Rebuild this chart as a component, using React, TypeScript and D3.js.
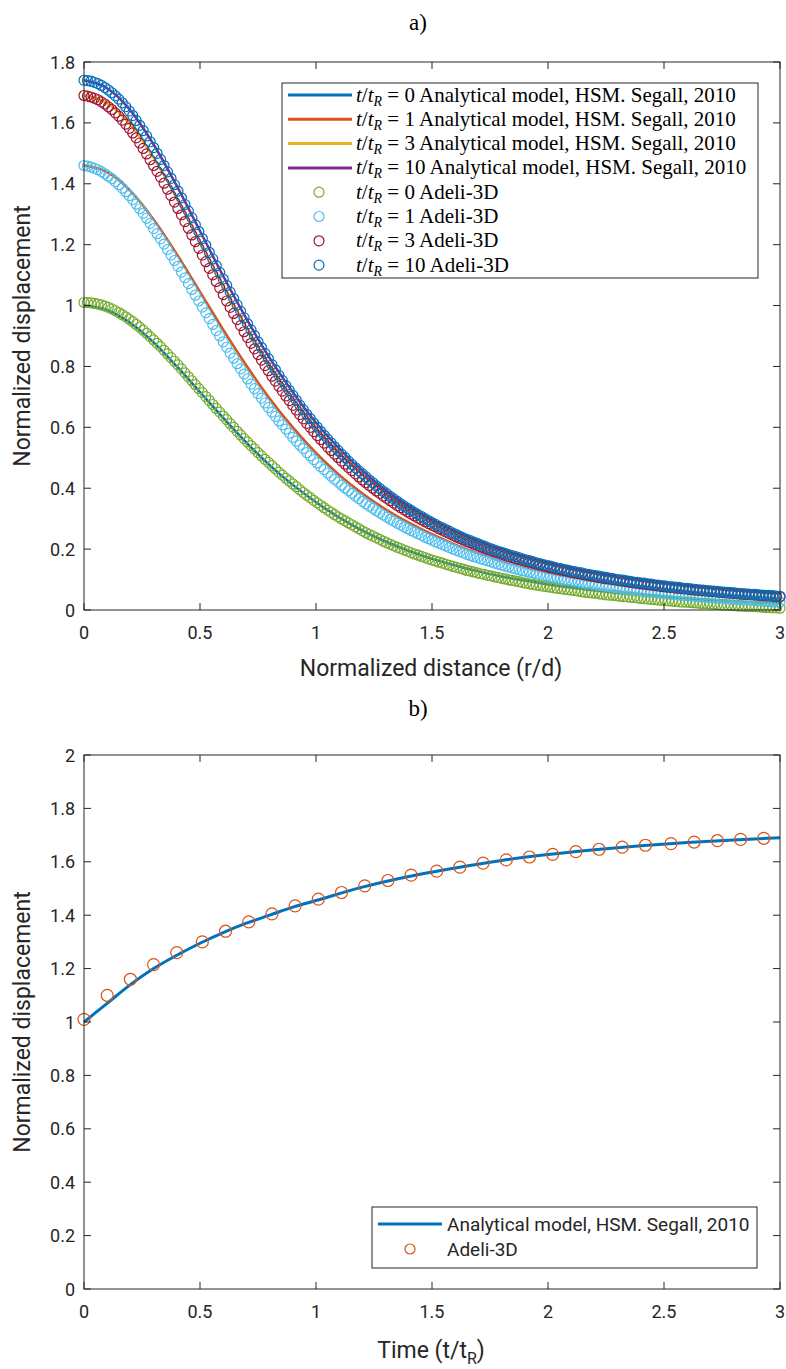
import React from "react";
import * as d3 from "d3";

// ---------- Panel a data ----------
const distKnots = [0, 0.1, 0.2, 0.3, 0.4, 0.5, 0.6, 0.7, 0.8, 0.9, 1.0, 1.1, 1.2, 1.3, 1.4, 1.5, 1.6, 1.7, 1.8, 1.9, 2.0, 2.1, 2.2, 2.3, 2.4, 2.5, 2.6, 2.7, 2.8, 2.9, 3.0];
const analyticT0 = [1.0, 0.985, 0.943, 0.879, 0.8, 0.716, 0.631, 0.55, 0.476, 0.411, 0.354, 0.304, 0.261, 0.225, 0.194, 0.168, 0.146, 0.127, 0.11, 0.097, 0.084, 0.074, 0.065, 0.057, 0.05, 0.044, 0.038, 0.033, 0.029, 0.025, 0.022];
const analyticT1 = [1.46, 1.438, 1.377, 1.283, 1.169, 1.045, 0.921, 0.803, 0.695, 0.6, 0.516, 0.444, 0.383, 0.331, 0.287, 0.249, 0.215, 0.186, 0.162, 0.141, 0.123, 0.108, 0.095, 0.083, 0.073, 0.065, 0.058, 0.051, 0.045, 0.04, 0.036];
const analyticT3 = [1.69, 1.665, 1.594, 1.485, 1.353, 1.209, 1.066, 0.929, 0.805, 0.694, 0.598, 0.514, 0.443, 0.383, 0.332, 0.288, 0.252, 0.22, 0.193, 0.171, 0.151, 0.134, 0.12, 0.107, 0.096, 0.087, 0.078, 0.071, 0.064, 0.058, 0.053];
const analyticT10 = [1.74, 1.714, 1.641, 1.529, 1.393, 1.245, 1.097, 0.957, 0.828, 0.715, 0.615, 0.53, 0.457, 0.394, 0.342, 0.297, 0.259, 0.227, 0.199, 0.176, 0.156, 0.138, 0.123, 0.11, 0.099, 0.089, 0.081, 0.073, 0.066, 0.06, 0.055];

const distSamples = [
  0, 0.015, 0.03, 0.045, 0.06, 0.075, 0.09, 0.105, 0.12, 0.135, 0.15, 0.165, 0.18, 0.195, 0.21, 0.225, 0.24, 0.255, 0.27, 0.285,
  0.3, 0.315, 0.33, 0.345, 0.36, 0.375, 0.39, 0.405, 0.42, 0.435, 0.45, 0.465, 0.48, 0.495, 0.51, 0.525, 0.54, 0.555, 0.57, 0.585,
  0.6, 0.615, 0.63, 0.645, 0.66, 0.675, 0.69, 0.705, 0.72, 0.735, 0.75, 0.765, 0.78, 0.795, 0.81, 0.825, 0.84, 0.855, 0.87, 0.885,
  0.9, 0.915, 0.93, 0.945, 0.96, 0.975, 0.99, 1.005, 1.02, 1.035, 1.05, 1.065, 1.08, 1.095, 1.11, 1.125, 1.14, 1.155, 1.17, 1.185,
  1.2, 1.215, 1.23, 1.245, 1.26, 1.275, 1.29, 1.305, 1.32, 1.335, 1.35, 1.365, 1.38, 1.395, 1.41, 1.425, 1.44, 1.455, 1.47, 1.485,
  1.5, 1.515, 1.53, 1.545, 1.56, 1.575, 1.59, 1.605, 1.62, 1.635, 1.65, 1.665, 1.68, 1.695, 1.71, 1.725, 1.74, 1.755, 1.77, 1.785,
  1.8, 1.815, 1.83, 1.845, 1.86, 1.875, 1.89, 1.905, 1.92, 1.935, 1.95, 1.965, 1.98, 1.995, 2.01, 2.025, 2.04, 2.055, 2.07, 2.085,
  2.1, 2.115, 2.13, 2.145, 2.16, 2.175, 2.19, 2.205, 2.22, 2.235, 2.25, 2.265, 2.28, 2.295, 2.31, 2.325, 2.34, 2.355, 2.37, 2.385,
  2.4, 2.415, 2.43, 2.445, 2.46, 2.475, 2.49, 2.505, 2.52, 2.535, 2.55, 2.565, 2.58, 2.595, 2.61, 2.625, 2.64, 2.655, 2.67, 2.685,
  2.7, 2.715, 2.73, 2.745, 2.76, 2.775, 2.79, 2.805, 2.82, 2.835, 2.85, 2.865, 2.88, 2.895, 2.91, 2.925, 2.94, 2.955, 2.97, 2.985,
  3.0,
];
const adeliT0 = [
  1.01, 1.01, 1.009, 1.007, 1.005, 1.002, 0.998, 0.994, 0.989, 0.983, 0.977, 0.97, 0.963, 0.955, 0.947, 0.938, 0.929, 0.919, 0.909, 0.898,
  0.887, 0.876, 0.865, 0.853, 0.841, 0.829, 0.817, 0.805, 0.792, 0.779, 0.766, 0.753, 0.74, 0.727, 0.714, 0.701, 0.688, 0.675, 0.662, 0.65,
  0.637, 0.625, 0.612, 0.6, 0.587, 0.575, 0.563, 0.552, 0.54, 0.529, 0.517, 0.506, 0.495, 0.485, 0.474, 0.464, 0.453, 0.443, 0.433, 0.424,
  0.414, 0.405, 0.395, 0.386, 0.377, 0.369, 0.36, 0.352, 0.344, 0.336, 0.328, 0.321, 0.313, 0.306, 0.299, 0.293, 0.286, 0.28, 0.273, 0.267,
  0.26, 0.254, 0.248, 0.243, 0.237, 0.232, 0.226, 0.221, 0.216, 0.211, 0.206, 0.202, 0.197, 0.193, 0.188, 0.184, 0.18, 0.176, 0.172, 0.168,
  0.164, 0.161, 0.157, 0.154, 0.15, 0.147, 0.143, 0.14, 0.137, 0.134, 0.13, 0.128, 0.125, 0.122, 0.119, 0.117, 0.114, 0.112, 0.109, 0.107,
  0.104, 0.102, 0.099, 0.097, 0.095, 0.093, 0.09, 0.088, 0.086, 0.084, 0.082, 0.08, 0.078, 0.077, 0.075, 0.073, 0.071, 0.07, 0.068, 0.067,
  0.065, 0.064, 0.062, 0.06, 0.058, 0.057, 0.056, 0.055, 0.053, 0.052, 0.05, 0.049, 0.048, 0.047, 0.045, 0.044, 0.043, 0.042, 0.041, 0.04,
  0.038, 0.037, 0.036, 0.035, 0.034, 0.033, 0.032, 0.031, 0.03, 0.029, 0.028, 0.027, 0.026, 0.026, 0.025, 0.024, 0.023, 0.022, 0.021, 0.021,
  0.02, 0.019, 0.018, 0.017, 0.016, 0.016, 0.015, 0.014, 0.013, 0.013, 0.012, 0.012, 0.011, 0.011, 0.01, 0.009, 0.008, 0.008, 0.007, 0.007,
  0.006,
];
const adeliT1 = [
  1.46, 1.458, 1.455, 1.451, 1.446, 1.44, 1.433, 1.425, 1.417, 1.407, 1.397, 1.386, 1.374, 1.361, 1.348, 1.333, 1.318, 1.303, 1.287, 1.27,
  1.253, 1.236, 1.219, 1.202, 1.184, 1.166, 1.148, 1.129, 1.11, 1.091, 1.072, 1.053, 1.034, 1.015, 0.995, 0.976, 0.957, 0.938, 0.918, 0.9,
  0.881, 0.863, 0.844, 0.827, 0.809, 0.792, 0.775, 0.759, 0.742, 0.727, 0.711, 0.696, 0.68, 0.665, 0.65, 0.636, 0.621, 0.608, 0.594, 0.581,
  0.567, 0.555, 0.542, 0.53, 0.517, 0.506, 0.494, 0.483, 0.471, 0.461, 0.45, 0.44, 0.429, 0.42, 0.41, 0.401, 0.392, 0.383, 0.374, 0.366,
  0.357, 0.349, 0.341, 0.334, 0.326, 0.319, 0.312, 0.305, 0.298, 0.292, 0.285, 0.279, 0.273, 0.267, 0.261, 0.256, 0.25, 0.245, 0.239, 0.234,
  0.229, 0.224, 0.219, 0.215, 0.21, 0.205, 0.2, 0.196, 0.192, 0.188, 0.183, 0.179, 0.175, 0.172, 0.168, 0.165, 0.161, 0.158, 0.154, 0.151,
  0.147, 0.144, 0.141, 0.138, 0.135, 0.132, 0.129, 0.127, 0.124, 0.122, 0.119, 0.117, 0.114, 0.112, 0.109, 0.107, 0.105, 0.103, 0.1, 0.098,
  0.096, 0.094, 0.092, 0.09, 0.088, 0.087, 0.085, 0.083, 0.081, 0.08, 0.078, 0.077, 0.075, 0.074, 0.072, 0.071, 0.069, 0.068, 0.066, 0.065,
  0.063, 0.062, 0.06, 0.059, 0.058, 0.057, 0.055, 0.054, 0.053, 0.052, 0.051, 0.05, 0.049, 0.048, 0.047, 0.046, 0.045, 0.044, 0.043, 0.042,
  0.041, 0.04, 0.039, 0.039, 0.038, 0.037, 0.036, 0.035, 0.034, 0.034, 0.033, 0.033, 0.032, 0.031, 0.03, 0.03, 0.029, 0.028, 0.027, 0.027,
  0.026,
];
const adeliT3 = [
  1.69, 1.688, 1.685, 1.681, 1.676, 1.669, 1.662, 1.653, 1.644, 1.633, 1.622, 1.609, 1.596, 1.582, 1.567, 1.551, 1.534, 1.516, 1.498, 1.479,
  1.46, 1.441, 1.422, 1.402, 1.382, 1.361, 1.34, 1.319, 1.298, 1.276, 1.254, 1.232, 1.21, 1.188, 1.166, 1.144, 1.122, 1.101, 1.079, 1.058,
  1.036, 1.015, 0.994, 0.974, 0.954, 0.934, 0.914, 0.895, 0.876, 0.858, 0.839, 0.821, 0.803, 0.786, 0.768, 0.752, 0.735, 0.719, 0.703, 0.688,
  0.672, 0.657, 0.642, 0.628, 0.613, 0.6, 0.586, 0.573, 0.56, 0.548, 0.535, 0.524, 0.512, 0.501, 0.489, 0.479, 0.468, 0.458, 0.447, 0.437,
  0.427, 0.418, 0.409, 0.4, 0.391, 0.383, 0.374, 0.367, 0.359, 0.351, 0.343, 0.336, 0.329, 0.322, 0.315, 0.309, 0.302, 0.296, 0.29, 0.284,
  0.278, 0.273, 0.267, 0.262, 0.256, 0.251, 0.245, 0.24, 0.235, 0.23, 0.225, 0.221, 0.216, 0.212, 0.207, 0.203, 0.199, 0.195, 0.191, 0.188,
  0.184, 0.18, 0.176, 0.173, 0.169, 0.166, 0.163, 0.16, 0.157, 0.154, 0.151, 0.148, 0.145, 0.142, 0.139, 0.137, 0.134, 0.132, 0.129, 0.127,
  0.124, 0.122, 0.12, 0.118, 0.115, 0.113, 0.111, 0.109, 0.107, 0.105, 0.103, 0.102, 0.1, 0.098, 0.096, 0.095, 0.093, 0.091, 0.089, 0.088,
  0.086, 0.085, 0.083, 0.082, 0.08, 0.079, 0.077, 0.076, 0.075, 0.074, 0.072, 0.071, 0.07, 0.069, 0.067, 0.066, 0.065, 0.064, 0.063, 0.062,
  0.061, 0.06, 0.059, 0.058, 0.057, 0.056, 0.055, 0.054, 0.053, 0.052, 0.051, 0.051, 0.05, 0.049, 0.048, 0.047, 0.046, 0.046, 0.045, 0.044,
  0.043,
];
const adeliT10 = [
  1.74, 1.739, 1.737, 1.733, 1.729, 1.723, 1.716, 1.708, 1.699, 1.689, 1.678, 1.666, 1.653, 1.639, 1.624, 1.608, 1.592, 1.575, 1.557, 1.538,
  1.519, 1.5, 1.48, 1.46, 1.439, 1.418, 1.397, 1.376, 1.354, 1.332, 1.31, 1.288, 1.265, 1.243, 1.22, 1.198, 1.175, 1.153, 1.131, 1.109,
  1.087, 1.066, 1.044, 1.023, 1.002, 0.981, 0.96, 0.94, 0.92, 0.901, 0.881, 0.862, 0.843, 0.825, 0.806, 0.789, 0.771, 0.754, 0.737, 0.721,
  0.705, 0.689, 0.673, 0.658, 0.643, 0.629, 0.614, 0.601, 0.587, 0.574, 0.561, 0.549, 0.536, 0.524, 0.512, 0.501, 0.489, 0.478, 0.467, 0.457,
  0.447, 0.437, 0.427, 0.418, 0.408, 0.399, 0.39, 0.382, 0.373, 0.365, 0.357, 0.349, 0.341, 0.334, 0.327, 0.32, 0.313, 0.307, 0.3, 0.294,
  0.287, 0.281, 0.275, 0.27, 0.264, 0.259, 0.253, 0.248, 0.242, 0.237, 0.232, 0.228, 0.223, 0.219, 0.214, 0.21, 0.205, 0.201, 0.197, 0.193,
  0.189, 0.186, 0.182, 0.179, 0.175, 0.172, 0.168, 0.165, 0.162, 0.159, 0.155, 0.152, 0.149, 0.147, 0.144, 0.141, 0.138, 0.136, 0.133, 0.131,
  0.128, 0.126, 0.124, 0.122, 0.119, 0.117, 0.115, 0.113, 0.111, 0.109, 0.107, 0.105, 0.103, 0.101, 0.099, 0.098, 0.096, 0.094, 0.092, 0.091,
  0.089, 0.088, 0.086, 0.085, 0.083, 0.082, 0.08, 0.079, 0.077, 0.076, 0.075, 0.074, 0.072, 0.071, 0.07, 0.069, 0.067, 0.066, 0.065, 0.064,
  0.063, 0.062, 0.061, 0.06, 0.059, 0.058, 0.057, 0.056, 0.055, 0.054, 0.053, 0.052, 0.051, 0.051, 0.05, 0.049, 0.048, 0.048, 0.047, 0.046,
  0.045,
];

const tLevels = ["0", "1", "3", "10"];
const lineColors = ["#0072BD", "#D95319", "#EDB120", "#7E2F8E"];
const markerColors = ["#77AC30", "#4DBEEE", "#A2142F", "#0072BD"];

// ---------- Panel b data ----------
const timeKnots = [0, 0.1, 0.2, 0.3, 0.4, 0.5, 0.6, 0.7, 0.8, 0.9, 1.0, 1.2, 1.4, 1.6, 1.8, 2.0, 2.2, 2.4, 2.6, 2.8, 3.0];
const analyticTime = [1.0, 1.07, 1.14, 1.2, 1.25, 1.295, 1.335, 1.37, 1.4, 1.43, 1.455, 1.505, 1.545, 1.577, 1.605, 1.627, 1.645, 1.66, 1.672, 1.682, 1.69];
const adeliTimes = [0, 0.1, 0.2, 0.3, 0.4, 0.51, 0.61, 0.71, 0.81, 0.91, 1.01, 1.11, 1.21, 1.31, 1.41, 1.52, 1.62, 1.72, 1.82, 1.92, 2.02, 2.12, 2.22, 2.32, 2.42, 2.53, 2.63, 2.73, 2.83, 2.93];
const adeliTimeValues = [1.01, 1.1, 1.16, 1.215, 1.26, 1.3, 1.34, 1.375, 1.405, 1.435, 1.46, 1.485, 1.51, 1.53, 1.55, 1.565, 1.58, 1.595, 1.607, 1.618, 1.628, 1.638, 1.647, 1.655, 1.662, 1.668, 1.674, 1.679, 1.684, 1.688];

const xTicks = [0, 0.5, 1, 1.5, 2, 2.5, 3];
const yTicksA = [0, 0.2, 0.4, 0.6, 0.8, 1, 1.2, 1.4, 1.6, 1.8];
const yTicksB = [0, 0.2, 0.4, 0.6, 0.8, 1, 1.2, 1.4, 1.6, 1.8, 2];

const AX = "#262626";
const SANS = "Roboto, 'Liberation Sans', sans-serif";
const SERIF = "'Liberation Serif', 'DejaVu Serif', serif";

type AxesProps = {
  x: d3.ScaleLinear<number, number>;
  y: d3.ScaleLinear<number, number>;
  yTicks: number[];
};

function Axes({ x, y, yTicks }: AxesProps) {
  const [x0, x1] = x.range();
  const [y0, y1] = y.range();
  const tl = 7;
  return (
    <g>
      <rect x={x0} y={y1} width={x1 - x0} height={y0 - y1} fill="none" stroke={AX} strokeWidth={1} />
      {xTicks.map((t) => (
        <g key={"x" + t}>
          <line x1={x(t)} x2={x(t)} y1={y0} y2={y0 - tl} stroke={AX} />
          <line x1={x(t)} x2={x(t)} y1={y1} y2={y1 + tl} stroke={AX} />
          <text x={x(t)} y={y0 + 29} textAnchor="middle" fontFamily={SANS} fontSize={18} fill={AX}>
            {String(t)}
          </text>
        </g>
      ))}
      {yTicks.map((t) => (
        <g key={"y" + t}>
          <line x1={x0} x2={x0 + tl} y1={y(t)} y2={y(t)} stroke={AX} />
          <line x1={x1} x2={x1 - tl} y1={y(t)} y2={y(t)} stroke={AX} />
          <text x={x0 - 9} y={y(t) + 6.5} textAnchor="end" fontFamily={SANS} fontSize={18} fill={AX}>
            {String(t)}
          </text>
        </g>
      ))}
    </g>
  );
}

function TR({ n }: { n: string }) {
  return (
    <>
      <tspan fontStyle="italic">t</tspan>
      <tspan>/</tspan>
      <tspan fontStyle="italic">t</tspan>
      <tspan fontStyle="italic" fontSize={14} dy={4}>R</tspan>
      <tspan dy={-4}>{" = " + n}</tspan>
    </>
  );
}

export default function App() {
  const xa = d3.scaleLinear().domain([0, 3]).range([84, 780]);
  const ya = d3.scaleLinear().domain([0, 1.8]).range([610, 62]);
  const xb = d3.scaleLinear().domain([0, 3]).range([84, 780]);
  const yb = d3.scaleLinear().domain([0, 2]).range([1289, 755]);

  const analytic = [analyticT0, analyticT1, analyticT3, analyticT10];
  const adeli = [adeliT0, adeliT1, adeliT3, adeliT10];

  const lineA = (vals: number[]) =>
    d3
      .line<number>()
      .x((_, i) => xa(distKnots[i]))
      .y((v) => ya(v))
      .curve(d3.curveMonotoneX)(vals) || "";

  const lineB =
    d3
      .line<number>()
      .x((_, i) => xb(timeKnots[i]))
      .y((v) => yb(v))
      .curve(d3.curveMonotoneX)(analyticTime) || "";

  const legRowsY = [95, 119.3, 143.6, 167.9, 192.2, 216.5, 240.8, 265.1];

  return (
    <svg
      width={786}
      height={1369}
      viewBox="0 0 786 1369"
      style={{ position: "absolute", left: 0, top: 0, background: "#fff" }}
    >
      <rect x={0} y={0} width={786} height={1369} fill="#fff" />

      {/* ----- Panel a ----- */}
      <text x={418} y={30} textAnchor="middle" fontFamily={SERIF} fontSize={23} fill="#000">
        a)
      </text>
      {analytic.map((vals, k) => (
        <path key={"la" + k} d={lineA(vals)} fill="none" stroke={lineColors[k]} strokeWidth={2.5} />
      ))}
      {adeli.map((vals, k) => (
        <g key={"ma" + k}>
          {vals.map((v, i) => (
            <circle
              key={i}
              cx={xa(distSamples[i])}
              cy={ya(v)}
              r={5}
              fill="none"
              stroke={markerColors[k]}
              strokeWidth={1.2}
            />
          ))}
        </g>
      ))}
      <Axes x={xa} y={ya} yTicks={yTicksA} />
      <text x={431} y={676} textAnchor="middle" fontFamily={SANS} fontSize={23} fill={AX}>
        Normalized distance (r/d)
      </text>
      <text
        transform={`translate(30,${(62 + 610) / 2}) rotate(-90)`}
        textAnchor="middle"
        fontFamily={SANS}
        fontSize={23}
        fill={AX}
      >
        Normalized displacement
      </text>

      {/* legend a */}
      <rect x={282} y={83} width={476} height={195} fill="#fff" stroke={AX} strokeWidth={1} />
      {tLevels.map((t, k) => (
        <g key={"lga" + k}>
          <line x1={288} x2={352} y1={legRowsY[k]} y2={legRowsY[k]} stroke={lineColors[k]} strokeWidth={3} />
          <text x={356} y={legRowsY[k] + 6.5} fontFamily={SERIF} fontSize={21} fill="#000">
            <TR n={t} />
            <tspan>{" Analytical model, HSM. Segall, 2010"}</tspan>
          </text>
        </g>
      ))}
      {tLevels.map((t, k) => (
        <g key={"lgm" + k}>
          <circle cx={319} cy={legRowsY[k + 4]} r={5} fill="none" stroke={markerColors[k]} strokeWidth={1.2} />
          <text x={356} y={legRowsY[k + 4] + 6.5} fontFamily={SERIF} fontSize={21} fill="#000">
            <TR n={t} />
            <tspan>{" Adeli-3D"}</tspan>
          </text>
        </g>
      ))}

      {/* ----- Panel b ----- */}
      <text x={418} y={716} textAnchor="middle" fontFamily={SERIF} fontSize={23} fill="#000">
        b)
      </text>
      <path d={lineB} fill="none" stroke="#0072BD" strokeWidth={3} />
      {adeliTimeValues.map((v, i) => (
        <circle
          key={"mb" + i}
          cx={xb(adeliTimes[i])}
          cy={yb(v)}
          r={6}
          fill="none"
          stroke="#D95319"
          strokeWidth={1.2}
        />
      ))}
      <Axes x={xb} y={yb} yTicks={yTicksB} />
      <text x={431} y={1358} textAnchor="middle" fontFamily={SANS} fontSize={23} fill={AX}>
        <tspan>Time (t/t</tspan>
        <tspan fontSize={16} dy={6}>R</tspan>
        <tspan dy={-6}>)</tspan>
      </text>
      <text
        transform={`translate(30,${(755 + 1289) / 2}) rotate(-90)`}
        textAnchor="middle"
        fontFamily={SANS}
        fontSize={23}
        fill={AX}
      >
        Normalized displacement
      </text>

      {/* legend b */}
      <rect x={372} y={1207} width={385} height={61} fill="#fff" stroke={AX} strokeWidth={1} />
      <line x1={378} x2={442} y1={1224} y2={1224} stroke="#0072BD" strokeWidth={3} />
      <text x={447} y={1231} fontFamily={SANS} fontSize={19} fill={AX}>
        Analytical model, HSM. Segall, 2010
      </text>
      <circle cx={410} cy={1249} r={5} fill="none" stroke="#D95319" strokeWidth={1.2} />
      <text x={447} y={1256} fontFamily={SANS} fontSize={19} fill={AX}>
        Adeli-3D
      </text>
    </svg>
  );
}
